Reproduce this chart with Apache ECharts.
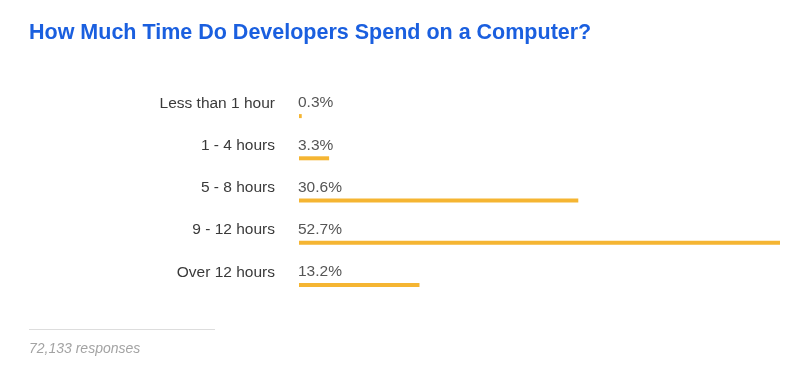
<!DOCTYPE html>
<html>
<head>
<meta charset="utf-8">
<script src="https://cdn.jsdelivr.net/npm/echarts@6/dist/echarts.min.js"></script>
<style>
html,body{margin:0;padding:0;background:#fff;}
#chart{width:800px;height:384px;}
</style>
</head>
<body>
<div id="chart"></div>
<script>
var categories = ['Less than 1 hour', '1 - 4 hours', '5 - 8 hours', '9 - 12 hours', 'Over 12 hours'];
var values = [0.3, 3.3, 30.6, 52.7, 13.2];
var titleText = 'How Much Time Do Developers Spend on a Computer?';
var footerText = '72,133 responses';

var chart = echarts.init(document.getElementById('chart'), null, {renderer: 'canvas'});
chart.setOption({
  animation: false,
  title: {
    text: titleText,
    left: 24,
    top: 17,
    textStyle: {fontFamily: 'Liberation Sans', fontSize: 21.5, fontWeight: 'bold', color: '#1a5fdf'}
  },
  graphic: [
    {type: 'line', shape: {x1: 29, y1: 329.5, x2: 215, y2: 329.5}, style: {stroke: '#dddddd', lineWidth: 1}},
    {type: 'text', left: 29, top: 342, style: {text: footerText, font: 'italic 14px "Liberation Sans"', fill: '#a3a3a3'}}
  ],
  grid: {left: 299, right: 20, top: 95, bottom: 78},
  xAxis: {
    type: 'value', min: 0, max: Math.max.apply(null, values),
    show: false
  },
  yAxis: {
    type: 'category', data: categories, inverse: true,
    axisLine: {show: false}, axisTick: {show: false}, splitLine: {show: false},
    axisLabel: {
      margin: 24, fontFamily: 'Liberation Sans', fontSize: 15.5, color: '#3a3a3a',
      verticalAlign: 'bottom', lineHeight: 15, padding: [0, 0, 5, 0]
    }
  },
  series: [{
    type: 'bar', data: values, barWidth: 4,
    itemStyle: {color: '#F5B532'},
    label: {
      show: true, position: [-1, -11], align: 'left', verticalAlign: 'middle',
      formatter: function (p) { return p.value.toFixed(1) + '%'; },
      fontFamily: 'Liberation Sans', fontSize: 15.5, color: '#555555'
    }
  }]
});
</script>
</body>
</html>
